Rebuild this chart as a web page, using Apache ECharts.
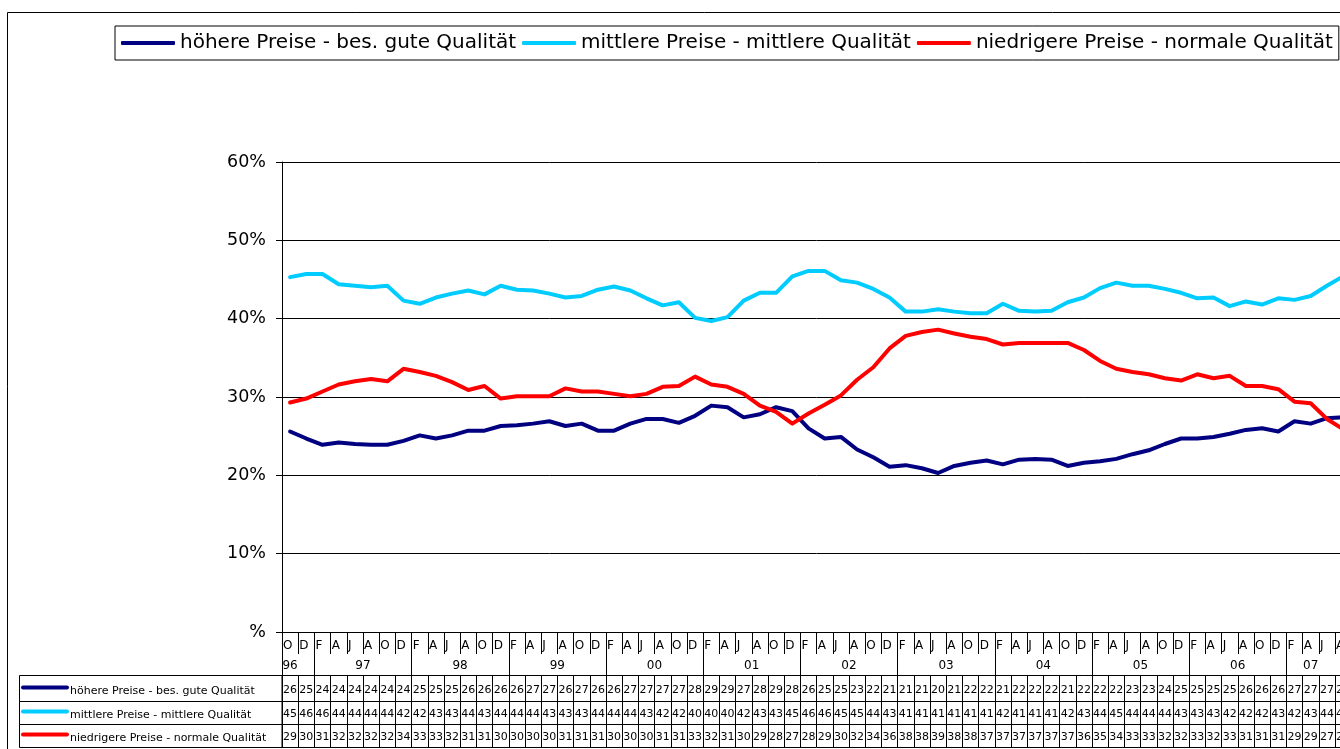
<!DOCTYPE html>
<html>
<head>
<meta charset="utf-8">
<title>Preissegmente</title>
<script src="https://cdn.jsdelivr.net/npm/echarts@6/dist/echarts.min.js"></script>
<style>
  html, body { margin: 0; padding: 0; background: #fff; overflow: hidden; }
  /* the original picture is cut off on the right, so the chart is wider than the window */
  #chart { width: 1400px; height: 760px; }
</style>
</head>
<body>
<div id="chart"></div>
<script>
  // bimonthly survey waves, Okt 96 .. Aug 07
  const categories = [
    'O 96', 'D 96',
    'F 97', 'A 97', 'J 97', 'A 97', 'O 97', 'D 97',
    'F 98', 'A 98', 'J 98', 'A 98', 'O 98', 'D 98',
    'F 99', 'A 99', 'J 99', 'A 99', 'O 99', 'D 99',
    'F 00', 'A 00', 'J 00', 'A 00', 'O 00', 'D 00',
    'F 01', 'A 01', 'J 01', 'A 01', 'O 01', 'D 01',
    'F 02', 'A 02', 'J 02', 'A 02', 'O 02', 'D 02',
    'F 03', 'A 03', 'J 03', 'A 03', 'O 03', 'D 03',
    'F 04', 'A 04', 'J 04', 'A 04', 'O 04', 'D 04',
    'F 05', 'A 05', 'J 05', 'A 05', 'O 05', 'D 05',
    'F 06', 'A 06', 'J 06', 'A 06', 'O 06', 'D 06',
    'F 07', 'A 07', 'J 07', 'A 07'
  ];

  const seriesNames = [
    'höhere Preise - bes. gute Qualität',
    'mittlere Preise - mittlere Qualität',
    'niedrigere Preise - normale Qualität'
  ];
  const seriesColors = ['#000080', '#00CCFF', '#FF0000'];

  // values in %
  const hoeherePreise = [
    25.6, 24.7,
    23.9, 24.2, 24.0, 23.9, 23.9, 24.4,
    25.1, 24.7, 25.1, 25.7, 25.7, 26.3,
    26.4, 26.6, 26.9, 26.3, 26.6, 25.7,
    25.7, 26.6, 27.2, 27.2, 26.7, 27.6,
    28.9, 28.7, 27.4, 27.8, 28.7, 28.2,
    26.0, 24.7, 24.9, 23.3, 22.3, 21.1,
    21.3, 20.9, 20.3, 21.2, 21.6, 21.9,
    21.4, 22.0, 22.1, 22.0, 21.2, 21.6,
    21.8, 22.1, 22.7, 23.2, 24.0, 24.7,
    24.7, 24.9, 25.3, 25.8, 26.0, 25.6,
    26.9, 26.6, 27.3, 27.4
  ];
  const mittlerePreise = [
    45.3, 45.7,
    45.7, 44.4, 44.2, 44.0, 44.2, 42.3,
    41.9, 42.7, 43.2, 43.6, 43.1, 44.2,
    43.7, 43.6, 43.2, 42.7, 42.9, 43.7,
    44.1, 43.6, 42.6, 41.7, 42.1, 40.1,
    39.7, 40.2, 42.3, 43.3, 43.3, 45.4,
    46.1, 46.1, 44.9, 44.6, 43.8, 42.7,
    40.9, 40.9, 41.2, 40.9, 40.7, 40.7,
    41.9, 41.0, 40.9, 41.0, 42.1, 42.7,
    43.9, 44.6, 44.2, 44.2, 43.8, 43.3,
    42.6, 42.7, 41.6, 42.2, 41.8, 42.6,
    42.4, 42.9, 44.2, 45.4
  ];
  const niedrigerePreise = [
    29.3, 29.8,
    30.7, 31.6, 32.0, 32.3, 32.0, 33.6,
    33.2, 32.7, 31.9, 30.9, 31.4, 29.8,
    30.1, 30.1, 30.1, 31.1, 30.7, 30.7,
    30.4, 30.1, 30.4, 31.3, 31.4, 32.6,
    31.6, 31.3, 30.4, 28.9, 28.1, 26.6,
    27.9, 29.0, 30.2, 32.2, 33.8, 36.2,
    37.8, 38.3, 38.6, 38.1, 37.7, 37.4,
    36.7, 36.9, 36.9, 36.9, 36.9, 36.0,
    34.6, 33.6, 33.2, 32.9, 32.4, 32.1,
    32.9, 32.4, 32.7, 31.4, 31.4, 31.0,
    29.4, 29.2, 27.2, 25.9
  ];
  const allValues = [hoeherePreise, mittlerePreise, niedrigerePreise];

  const yTicks = [0, 10, 20, 30, 40, 50, 60];

  const font = 'DejaVu Sans';
  const monthOf = (i) => categories[i].split(' ')[0];
  const yearOf = (i) => categories[i].split(' ')[1];

  // where each year starts and how many waves it has
  const yearSpans = {};
  categories.forEach((c, i) => {
    const y = yearOf(i);
    if (!yearSpans[y]) yearSpans[y] = { start: i, len: 0 };
    yearSpans[y].len++;
  });

  // table geometry (offsets below the plot bottom)
  const rowTop = [43, 69, 92];
  const rowHeight = [26, 23, 23];
  const tableBottom = 115;
  const plotBottom = 632;

  function yearLabel(value, index) {
    const y = yearOf(index);
    const s = yearSpans[y];
    if (s.len === 6) {
      // full year: centred between 3rd and 4th wave
      return index === s.start + 2 ? '{r|' + y + '}' : '';
    }
    return index === s.start + Math.floor((s.len - 1) / 2) ? y : '';
  }

  function tableAxis(row) {
    const values = allValues[row];
    return {
      type: 'category',
      position: 'bottom',
      offset: rowTop[row],
      data: categories,
      boundaryGap: true,
      axisLine: { show: true, lineStyle: { color: '#000', width: 1 } },
      axisTick: { show: true, interval: 0, length: rowHeight[row], lineStyle: { color: '#000', width: 1 } },
      axisLabel: {
        interval: 0,
        margin: row === 0 ? 10 : 8,
        fontSize: 11,
        fontFamily: font,
        color: '#000',
        formatter: (v, i) => String(Math.round(values[i]))
      },
      splitLine: { show: false }
    };
  }

  const chart = echarts.init(document.getElementById('chart'), null, { renderer: 'canvas' });

  // left column of the data table: key + series name
  const tableKeys = [];
  for (let r = 0; r < 3; r++) {
    const top = plotBottom + rowTop[r];
    const mid = top + (r === 0 ? 16 : 14);
    tableKeys.push({
      type: 'rect',
      silent: true,
      shape: { x: 19.5, y: top + 0.5, width: 262.5, height: rowHeight[r] },
      style: { fill: null, stroke: '#000', lineWidth: 1 }
    });
    tableKeys.push({
      type: 'line',
      silent: true,
      shape: { x1: 23, y1: mid - 3.5, x2: 67, y2: mid - 3.5 },
      style: { stroke: seriesColors[r], lineWidth: 4, lineCap: 'round' }
    });
    tableKeys.push({
      type: 'text',
      silent: true,
      x: 70,
      y: mid,
      style: { text: seriesNames[r], fontSize: 11, fontFamily: font, fill: '#000', verticalAlign: 'middle' }
    });
  }

  const option = {
    backgroundColor: '#fff',
    animation: false,
    color: seriesColors,
    legend: {
      left: 115,
      top: 26,
      padding: [7, 6, 7, 6],
      itemGap: 6,
      itemWidth: 54,
      itemHeight: 4,
      icon: 'roundRect',
      borderColor: '#000',
      borderWidth: 1,
      borderRadius: 0,
      textStyle: { fontFamily: font, fontSize: 20, color: '#000', lineHeight: 20 },
      data: seriesNames
    },
    grid: {
      left: 282,
      top: 162,
      right: 1400 - 1351.2,
      bottom: 760 - plotBottom,
      outerBoundsMode: 'none'
    },
    xAxis: [
      {
        // month letters
        type: 'category',
        position: 'bottom',
        data: categories,
        boundaryGap: true,
        axisLine: { show: true, lineStyle: { color: '#000', width: 1 } },
        axisTick: { show: true, interval: 0, length: 22, lineStyle: { color: '#000', width: 1 } },
        axisLabel: {
          interval: 0,
          margin: 8,
          color: '#000',
          fontSize: 12,
          fontFamily: font,
          formatter: (v, i) => '{m|' + monthOf(i) + '}',
          rich: { m: { width: 16, align: 'left', padding: [0, 0, 0, 2], fontSize: 12, fontFamily: font, color: '#000' } }
        },
        splitLine: { show: false }
      },
      {
        // years
        type: 'category',
        position: 'bottom',
        offset: 22,
        data: categories,
        boundaryGap: true,
        axisLine: { show: false },
        axisTick: {
          show: true,
          length: 21,
          interval: (i) => i === 0 || monthOf(i) === 'F',
          lineStyle: { color: '#000', width: 1 }
        },
        axisLabel: {
          interval: 0,
          margin: 6,
          color: '#000',
          fontSize: 12,
          fontFamily: font,
          formatter: yearLabel,
          rich: { r: { padding: [0, 0, 0, 16], fontSize: 12, fontFamily: font, color: '#000' } }
        },
        splitLine: { show: false }
      },
      tableAxis(0),
      tableAxis(1),
      tableAxis(2),
      {
        // bottom border of the table
        type: 'category',
        position: 'bottom',
        offset: tableBottom,
        data: categories,
        axisLine: { show: true, lineStyle: { color: '#000', width: 1 } },
        axisTick: { show: false },
        axisLabel: { show: false },
        splitLine: { show: false }
      }
    ],
    yAxis: {
      type: 'value',
      min: yTicks[0],
      max: yTicks[yTicks.length - 1],
      interval: 10,
      axisLine: { show: true, lineStyle: { color: '#000', width: 1 } },
      axisTick: { show: true, length: 6, lineStyle: { color: '#000', width: 1 } },
      axisLabel: {
        margin: 16,
        color: '#000',
        fontSize: 17.5,
        fontFamily: font,
        formatter: (v) => (v === 0 ? '%' : v + '%')
      },
      splitLine: { show: true, lineStyle: { color: '#000', width: 1 } }
    },
    series: seriesNames.map((name, k) => ({
      name: name,
      type: 'line',
      xAxisIndex: 0,
      yAxisIndex: 0,
      data: allValues[k],
      symbol: 'none',
      lineStyle: { width: 4, color: seriesColors[k], join: 'round', cap: 'round' },
      itemStyle: { color: seriesColors[k] }
    })),
    graphic: [
      {
        type: 'rect',
        silent: true,
        shape: { x: 7.5, y: 12.5, width: 1500, height: 900 },
        style: { fill: null, stroke: '#000', lineWidth: 1 }
      }
    ].concat(tableKeys)
  };

  chart.setOption(option);
</script>
</body>
</html>
